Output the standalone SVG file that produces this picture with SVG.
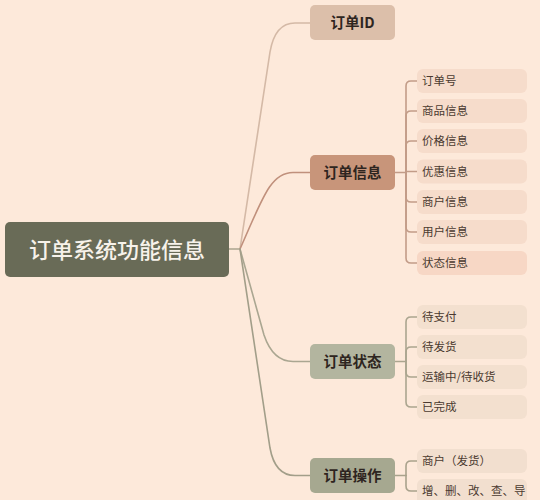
<svg xmlns="http://www.w3.org/2000/svg" width="540" height="500" viewBox="0 0 540 500">
<style>
  text { font-family: "Noto Sans CJK SC", "Noto Sans", sans-serif; }
  .root-t { font-size: 22px; fill: #f7f2ea; text-anchor: middle; font-weight: 500; }
  .br-t { font-size: 14.5px; fill: #2e2520; text-anchor: middle; font-weight: 700; }
  .lf-t { font-size: 11.5px; fill: #4a3a30; }
  .c { fill: none; stroke-width: 1.6; stroke-linecap: round; }
</style>
<rect width="540" height="500" fill="#fde9da"/>
<g id="connectors">
  <path class="c" stroke="#aaa48f" d="M229,249 H240"/>
  <path class="c" stroke="#d4b9a6" d="M240,249 L270,52 Q275,23 295,23 H310"/>
  <path class="c" stroke="#c0907c" d="M240,249 C262,200 270,172.5 293,172.5 H310"/>
  <path class="c" stroke="#aaa691" d="M240,249 L264,335 Q273,361.5 293,361.5 H310"/>
  <path class="c" stroke="#a29e89" d="M240,249 L270,448 Q275,475.5 295,475.5 H310"/>
  <g stroke="#c29c88">
    <path class="c" d="M395,172.5 H406"/>
    <path class="c" d="M406,172.5 V86 Q406,81 411,81 H417"/>
    <path class="c" d="M406,172.5 V116 Q406,111 411,111 H417"/>
    <path class="c" d="M406,172.5 V146 Q406,141 411,141 H417"/>
    <path class="c" d="M406,172.5 V171.5 H417"/>
    <path class="c" d="M406,172.5 V197 Q406,202 411,202 H417"/>
    <path class="c" d="M406,172.5 V227 Q406,232 411,232 H417"/>
    <path class="c" d="M406,172.5 V258 Q406,263 411,263 H417"/>
  </g>
  <g stroke="#aba58f">
    <path class="c" d="M395,361.5 H406"/>
    <path class="c" d="M406,361.5 V322 Q406,317 411,317 H417"/>
    <path class="c" d="M406,361.5 V352 Q406,347 411,347 H417"/>
    <path class="c" d="M406,361.5 V372 Q406,377 411,377 H417"/>
    <path class="c" d="M406,361.5 V402 Q406,407 411,407 H417"/>
  </g>
  <g stroke="#a9a28c">
    <path class="c" d="M395,475.5 H406"/>
    <path class="c" d="M406,475.5 V466 Q406,461 411,461 H417"/>
    <path class="c" d="M406,475.5 V486 Q406,491 411,491 H417"/>
  </g>
</g>
<g id="root">
  <rect x="5" y="222" width="224" height="55" rx="5" fill="#696b57"/>
  <text class="root-t" x="117" y="257.5">订单系统功能信息</text>
</g>
<g id="b-id">
  <rect x="310" y="5" width="85" height="35" rx="5" fill="#dcbfaa"/>
  <text class="br-t" x="352.5" y="28">订单ID</text>
</g>
<g id="b-info">
  <rect x="310" y="155" width="85" height="35" rx="5" fill="#c8957a"/>
  <text class="br-t" x="352.5" y="177.5">订单信息</text>
</g>
<g id="b-status">
  <rect x="310" y="344" width="85" height="35" rx="5" fill="#b3b59f"/>
  <text class="br-t" x="352.5" y="366.5">订单状态</text>
</g>
<g id="b-op">
  <rect x="310" y="458" width="85" height="35" rx="5" fill="#a6a890"/>
  <text class="br-t" x="352.5" y="480.5">订单操作</text>
</g>
<g id="l-info-1"><rect x="417" y="69" width="110" height="24" rx="6" fill="#f6dccb"/><text class="lf-t" x="422" y="85">订单号</text></g>
<g id="l-info-2"><rect x="417" y="99" width="110" height="24" rx="6" fill="#f6dccb"/><text class="lf-t" x="422" y="115">商品信息</text></g>
<g id="l-info-3"><rect x="417" y="129" width="110" height="24" rx="6" fill="#f6dccb"/><text class="lf-t" x="422" y="145">价格信息</text></g>
<g id="l-info-4"><rect x="417" y="159.5" width="110" height="24" rx="6" fill="#f6dccb"/><text class="lf-t" x="422" y="175.5">优惠信息</text></g>
<g id="l-info-5"><rect x="417" y="190" width="110" height="24" rx="6" fill="#f6dccb"/><text class="lf-t" x="422" y="206">商户信息</text></g>
<g id="l-info-6"><rect x="417" y="220" width="110" height="24" rx="6" fill="#f6dccb"/><text class="lf-t" x="422" y="236">用户信息</text></g>
<g id="l-info-7"><rect x="417" y="251" width="110" height="24" rx="6" fill="#f7d7c5"/><text class="lf-t" x="422" y="267">状态信息</text></g>
<g id="l-st-1"><rect x="417" y="305" width="110" height="24" rx="6" fill="#f3e0cf"/><text class="lf-t" x="422" y="321">待支付</text></g>
<g id="l-st-2"><rect x="417" y="335" width="110" height="24" rx="6" fill="#f3e0cf"/><text class="lf-t" x="422" y="351">待发货</text></g>
<g id="l-st-3"><rect x="417" y="365" width="110" height="24" rx="6" fill="#f3e0cf"/><text class="lf-t" x="422" y="381">运输中/待收货</text></g>
<g id="l-st-4"><rect x="417" y="395" width="110" height="24" rx="6" fill="#f3e0cf"/><text class="lf-t" x="422" y="411">已完成</text></g>
<g id="l-op-1"><rect x="417" y="449" width="110" height="24" rx="6" fill="#f2dfcf"/><text class="lf-t" x="422" y="465">商户（发货）</text></g>
<g id="l-op-2"><rect x="417" y="479" width="110" height="26" rx="6" fill="#f2dfcf"/><text class="lf-t" x="422" y="495">增、删、改、查、导</text></g>
</svg>
